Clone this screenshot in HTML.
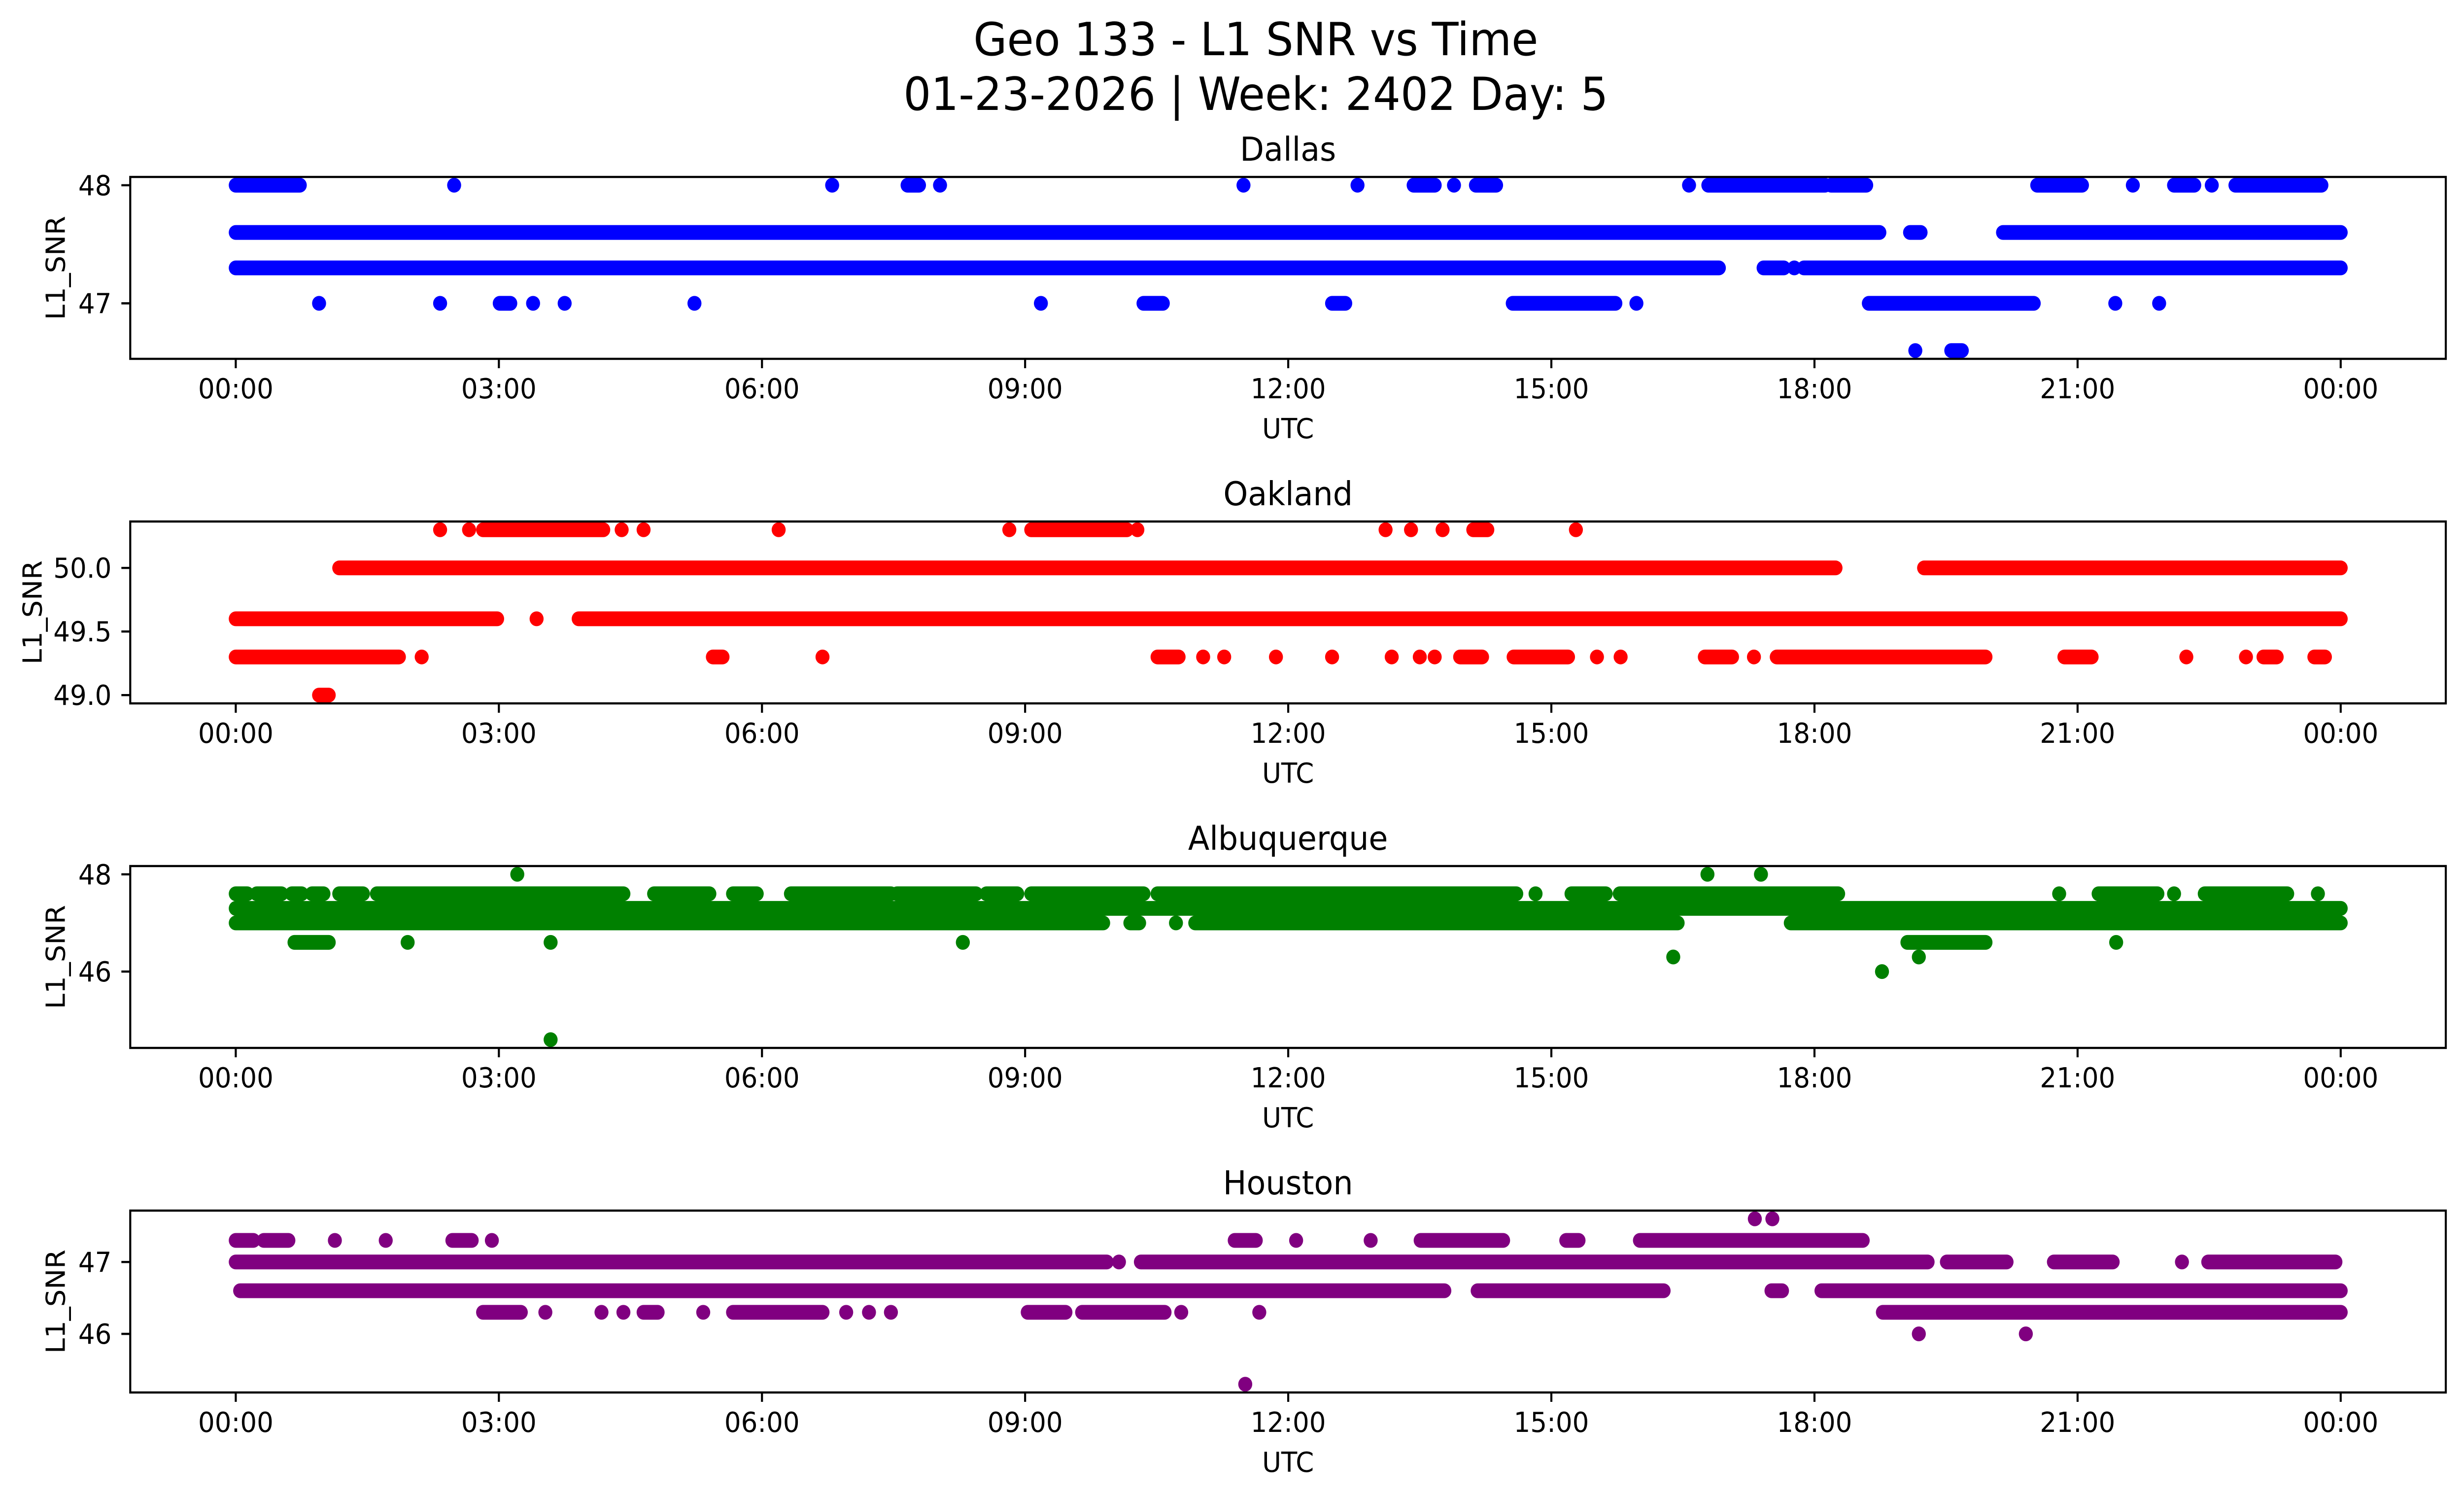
<!DOCTYPE html>
<html>
<head>
<meta charset="utf-8">
<meta name="viewport" content="width=5278, initial-scale=1">
<style>
html,body{margin:0;padding:0;background:#fff;width:100vw;height:100vh;overflow:hidden;}
svg{display:block;position:absolute;left:0;top:0;width:100vw;height:100vh;}
text{font-family:"DejaVu Sans","Liberation Sans",sans-serif;fill:#000;}
</style>
</head>
<body>
<svg id="fig" xmlns="http://www.w3.org/2000/svg" viewBox="0 0 5278 3033" preserveAspectRatio="none">
<rect x="0" y="0" width="5278" height="3033" fill="#fff"/>
<text x="2690" y="112" font-size="93" text-anchor="middle">Geo 133 - L1 SNR vs Time</text>
<text x="2690" y="223" font-size="93" text-anchor="middle">01-23-2026 | Week: 2402 Day: 5</text>
</svg>
<script>
// ---- data (hours UTC, L1_SNR) ----
const xTickLabels = ["00:00","03:00","06:00","09:00","12:00","15:00","18:00","21:00","00:00"];
const xTickHours = [0,3,6,9,12,15,18,21,24];

const dallasLevel = [48,48,48,48,48,48,48,48,48,48,48,48,48,48,48,48,48,48, 47.6,47.6,47.6, 47.3,47.3,47.3,47.3, 47,47,47,47,47,47,47,47,47,47,47,47,47,47, 46.6,46.6];
const dallasStart = [0,2.49,6.80,7.66,8.03,11.49,12.79,13.43,13.89,14.14,16.57,16.79,18.19,20.54,21.63,22.10,22.53,22.80, 0,19.09,20.15, 0,17.42,17.77,17.88, 0.95,2.33,3.01,3.39,3.75,5.23,9.18,10.35,12.50,14.56,15.97,18.62,21.43,21.93, 19.15,19.56];
const dallasEnd   = [0.73,2.49,6.80,7.79,8.03,11.49,12.79,13.67,13.89,14.37,16.57,18.12,18.59,21.05,21.63,22.33,22.53,23.78, 18.74,19.21,24, 16.91,17.65,17.77,24, 0.95,2.33,3.13,3.39,3.75,5.23,9.18,10.57,12.65,15.73,15.97,20.50,21.43,21.93, 19.15,19.68];

const oaklandLevel = [50.3,50.3,50.3,50.3,50.3,50.3,50.3,50.3,50.3,50.3,50.3,50.3,50.3,50.3, 50,50, 49.6,49.6,49.6, 49.3,49.3,49.3,49.3,49.3,49.3,49.3,49.3,49.3,49.3,49.3,49.3,49.3,49.3,49.3,49.3,49.3,49.3,49.3,49.3,49.3,49.3,49.3,49.3, 49.0];
const oaklandStart = [2.33,2.66,2.82,4.40,4.65,6.19,8.82,9.07,10.28,13.11,13.40,13.76,14.11,15.28, 1.18,19.25, 0,3.43,3.91, 0,2.12,5.44,6.69,10.51,11.03,11.27,11.86,12.50,13.18,13.50,13.67,13.96,14.57,15.52,15.79,16.75,17.31,17.57,20.85,22.24,22.92,23.12,23.70, 0.95];
const oaklandEnd   = [2.33,2.66,4.19,4.40,4.65,6.19,8.82,10.16,10.28,13.11,13.40,13.76,14.27,15.28, 18.24,24, 2.98,3.43,24, 1.86,2.12,5.55,6.69,10.75,11.03,11.27,11.86,12.50,13.18,13.50,13.67,14.21,15.19,15.52,15.79,17.06,17.31,19.95,21.16,22.24,22.92,23.27,23.82, 1.06];

const albuquerqueLevel = [48,48,48, 47.6,47.6,47.6,47.6,47.6,47.6,47.6,47.6,47.6,47.6,47.6,47.6,47.6,47.6,47.6,47.6,47.6,47.6,47.6,47.6,47.6, 47.3, 47,47,47,47,47, 46.6,46.6,46.6,46.6,46.6,46.6, 46.3,46.3, 46.0, 44.6];
const albuquerqueStart = [3.21,16.78,17.39, 0,0.24,0.64,0.87,1.18,1.61,4.77,5.67,6.33,7.54,8.56,9.07,10.51,14.82,15.23,15.78,20.79,21.24,22.1,22.45,23.74, 0, 0,10.2,10.72,10.94,17.73, 0.67,1.96,3.59,8.29,19.06,21.44, 16.39,19.19, 18.77, 3.59];
const albuquerqueEnd   = [3.21,16.78,17.39, 0.13,0.52,0.75,1.0,1.45,4.42,5.40,5.94,7.47,8.44,8.91,10.35,14.6,14.82,15.62,18.27,20.79,21.91,22.1,23.39,23.74, 24, 9.89,10.3,10.72,16.44,24, 1.06,1.96,3.59,8.29,19.95,21.44, 16.39,19.19, 18.77, 3.59];

const houstonLevel = [47.6,47.6, 47.3,47.3,47.3,47.3,47.3,47.3,47.3,47.3,47.3,47.3,47.3,47.3, 47,47,47,47,47,47,47, 46.6,46.6,46.6,46.6, 46.3,46.3,46.3,46.3,46.3,46.3,46.3,46.3,46.3,46.3,46.3,46.3,46.3,46.3,46.3, 46.0,46.0, 45.3];
const houstonStart = [17.32,17.52, 0,0.32,1.13,1.71,2.47,2.92,11.39,12.09,12.94,13.51,15.17,16.01, 0,10.07,10.32,19.51,20.73,22.19,22.49, 0.05,14.16,17.51,18.08, 2.82,3.53,4.17,4.42,4.65,5.33,5.67,6.96,7.22,7.47,9.03,9.65,10.78,11.67,18.78, 19.19,20.41, 11.51];
const houstonEnd   = [17.32,17.52, 0.2,0.6,1.13,1.71,2.69,2.92,11.63,12.09,12.94,14.45,15.31,18.55, 9.93,10.07,19.29,20.19,21.40,22.19,23.94, 13.78,16.28,17.63,24, 3.25,3.53,4.17,4.42,4.81,5.33,6.69,6.96,7.22,7.47,9.46,10.59,10.78,11.67,24, 19.19,20.41, 11.51];

const panelNames = ["Dallas","Oakland","Albuquerque","Houston"];
const panelYTicks = [[47,48],[49.0,49.5,50.0],[46,48],[46,47]];
const panelYTickLabels = [["47","48"],["49.0","49.5","50.0"],["46","48"],["46","47"]];
const panelYDomain = [[46.53,48.07],[48.935,50.365],[44.43,48.17],[45.185,47.715]];

// ---- layout ----
const NS = "http://www.w3.org/2000/svg";
const svg = document.getElementById("fig");
const AX_L = 279, AX_R = 5239, AX_H = 369;
const PANEL_TOPS = [359, 1058, 1757, 2456];
const X0 = 505, PX_PER_H = 187.87;
const COLORS = ["#0000ff","#ff0000","#008000","#800080"];
const LABEL_X = [139, 89, 139, 139];
const R = 15;
const series = [
  [dallasLevel, dallasStart, dallasEnd],
  [oaklandLevel, oaklandStart, oaklandEnd],
  [albuquerqueLevel, albuquerqueStart, albuquerqueEnd],
  [houstonLevel, houstonStart, houstonEnd]
];
function xScale(h){ return X0 + h * PX_PER_H; }
function mk(tag, attrs){ const e = document.createElementNS(NS, tag); for (const k in attrs) e.setAttribute(k, attrs[k]); return e; }
const slug = s => s.toLowerCase();

for (let p = 0; p < 4; p++) {
  const top = PANEL_TOPS[p], bot = top + AX_H;
  const [dmin, dmax] = panelYDomain[p];
  const yScale = v => bot - (v - dmin) / (dmax - dmin) * AX_H;
  const g = mk("g", {});
  
  
  svg.appendChild(g);

  const marks = mk("g", {fill: COLORS[p], stroke: COLORS[p]});
  
  
  g.appendChild(marks);
  const [lv, st, en] = series[p];
  for (let i = 0; i < lv.length; i++) {
    const y = yScale(lv[i]), x1 = xScale(st[i]), x2 = xScale(en[i]);
    let el;
    if (en[i] - st[i] < 0.001) {
      el = mk("circle", {cx: x1, cy: y, r: R, stroke: "none"});
    } else {
      el = mk("line", {x1: x1, y1: y, x2: x2, y2: y, "stroke-width": 2 * R, "stroke-linecap": "round"});
    }
    
    
    marks.appendChild(el);
  }

  const frame = mk("rect", {x: AX_L, y: top, width: AX_R - AX_L, height: AX_H, fill: "none", stroke: "#000", "stroke-width": 4.4});
  
  
  g.appendChild(frame);

  for (let i = 0; i < xTickHours.length; i++) {
    const x = xScale(xTickHours[i]);
    const t = mk("line", {x1: x, y1: bot, x2: x, y2: bot + 19, stroke: "#000", "stroke-width": 4.4});
    
    
    g.appendChild(t);
    const lab = mk("text", {x: x, y: bot + 80, "font-size": 56, "text-anchor": "middle"});
    lab.textContent = xTickLabels[i];
    
    
    g.appendChild(lab);
  }
  const xl = mk("text", {x: (AX_L + AX_R) / 2, y: bot + 161, "font-size": 56, "text-anchor": "middle"});
  xl.textContent = "UTC";
  
  
  g.appendChild(xl);

  for (let i = 0; i < panelYTicks[p].length; i++) {
    const y = yScale(panelYTicks[p][i]);
    const t = mk("line", {x1: AX_L - 19, y1: y, x2: AX_L, y2: y, stroke: "#000", "stroke-width": 4.4});
    
    
    g.appendChild(t);
    const lab = mk("text", {x: AX_L - 40, y: y + 20, "font-size": 56, "text-anchor": "end"});
    lab.textContent = panelYTickLabels[p][i];
    
    
    g.appendChild(lab);
  }
  const yc = top + AX_H / 2;
  const yl = mk("text", {x: LABEL_X[p], y: yc, "font-size": 56, "text-anchor": "middle", transform: "rotate(-90 " + LABEL_X[p] + " " + yc + ")"});
  yl.textContent = "L1_SNR";
  
  
  g.appendChild(yl);

  const st2 = mk("text", {x: (AX_L + AX_R) / 2, y: top - 33, "font-size": 67, "text-anchor": "middle"});
  st2.textContent = panelNames[p];
  
  
  g.appendChild(st2);
}
</script>
</body>
</html>
